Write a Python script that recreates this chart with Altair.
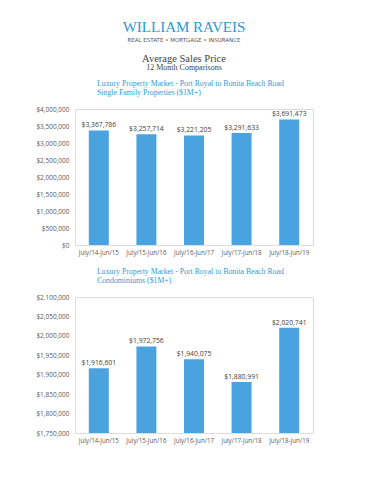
import altair as alt
import pandas as pd

periods = ["July/14-Jun/15", "July/15-Jun/16", "July/16-Jun/17", "July/17-Jun/18", "July/18-Jun/19"]
sf_values = [3367786, 3257714, 3221205, 3291633, 3691473]
condo_values = [1916601, 1972756, 1940075, 1880991, 2020741]

sf_ticks = [0, 500000, 1000000, 1500000, 2000000, 2500000, 3000000, 3500000, 4000000]
condo_ticks = [1750000, 1800000, 1850000, 1900000, 1950000, 2000000, 2050000, 2100000]

BLUE = "#4AA3DF"
TITLE_BLUE = "#2E9BD6"
GRAY = "#595959"
W, H = 238, 136


def bar_chart(values, ticks, title_lines):
    df = pd.DataFrame({"period": periods, "value": values})
    base = alt.Chart(df)
    x = alt.X("period:N", sort=periods, title=None,
              scale=alt.Scale(paddingInner=0.58, paddingOuter=0.29),
              axis=alt.Axis(labelAngle=0, ticks=False, domain=False, labelFontSize=6.2,
                            labelColor=GRAY, labelFont="Open Sans", labelPadding=4))
    y = alt.Y("value:Q", title=None,
              scale=alt.Scale(domain=[ticks[0], ticks[-1]], zero=False, nice=False),
              axis=alt.Axis(values=ticks, format="$,.0f", ticks=False, domain=False, grid=False,
                            labelOverlap=False, labelFontSize=6.5, labelColor=GRAY,
                            labelFont="Open Sans", labelPadding=6))
    bars = base.mark_bar(color=BLUE, clip=True).encode(x=x, y=y)
    labels = base.mark_text(dy=-5, fontSize=6.8, color="#404040", font="Open Sans").encode(
        x=x, y=y, text=alt.Text("value:Q", format="$,.0f"))
    return (bars + labels).properties(
        width=W, height=H,
        title=alt.TitleParams(text=title_lines, anchor="start", frame="group", dx=22,
                              font="Liberation Serif", fontSize=7.8, fontWeight="normal",
                              color=TITLE_BLUE, lineHeight=9, offset=9),
    )


hdr = alt.Chart(alt.Data(values=[{}]))
header = alt.layer(
    hdr.mark_text(text="WILLIAM RAVEIS", font="Liberation Serif", fontSize=15, color="#2A9AD6",
                  baseline="alphabetic").encode(x=alt.value(109), y=alt.value(23)),
    hdr.mark_text(text="REAL ESTATE  •  MORTGAGE  •  INSURANCE", font="DejaVu Sans", fontSize=5.5,
                  color="#555555").encode(x=alt.value(109), y=alt.value(31)),
    hdr.mark_text(text="Average Sales Price", font="Liberation Serif", fontSize=10.5,
                  color="#444444").encode(x=alt.value(109), y=alt.value(50)),
    hdr.mark_text(text="12 Month Comparisons", font="Liberation Serif", fontSize=8,
                  color="#444444").encode(x=alt.value(109), y=alt.value(59)),
).properties(width=W, height=48, view=alt.ViewBackground(stroke="transparent"))

chart1 = bar_chart(sf_values, sf_ticks,
                   ["Luxury Property Market - Port Royal to Bonita Beach Road",
                    "Single Family Properties ($1M+)"])
chart2 = bar_chart(condo_values, condo_ticks,
                   ["Luxury Property Market - Port Royal to Bonita Beach Road",
                    "Condominiums ($1M+)"])

chart = alt.vconcat(header, chart1, chart2, spacing=52, bounds="flush").properties(
    padding={"left": 27, "top": 0, "right": 5, "bottom": 5}
).configure_view(stroke="#BDD7EE", strokeWidth=1).configure(background="white")

chart.save("out.html", embed_options={"renderer": "svg", "actions": False})
